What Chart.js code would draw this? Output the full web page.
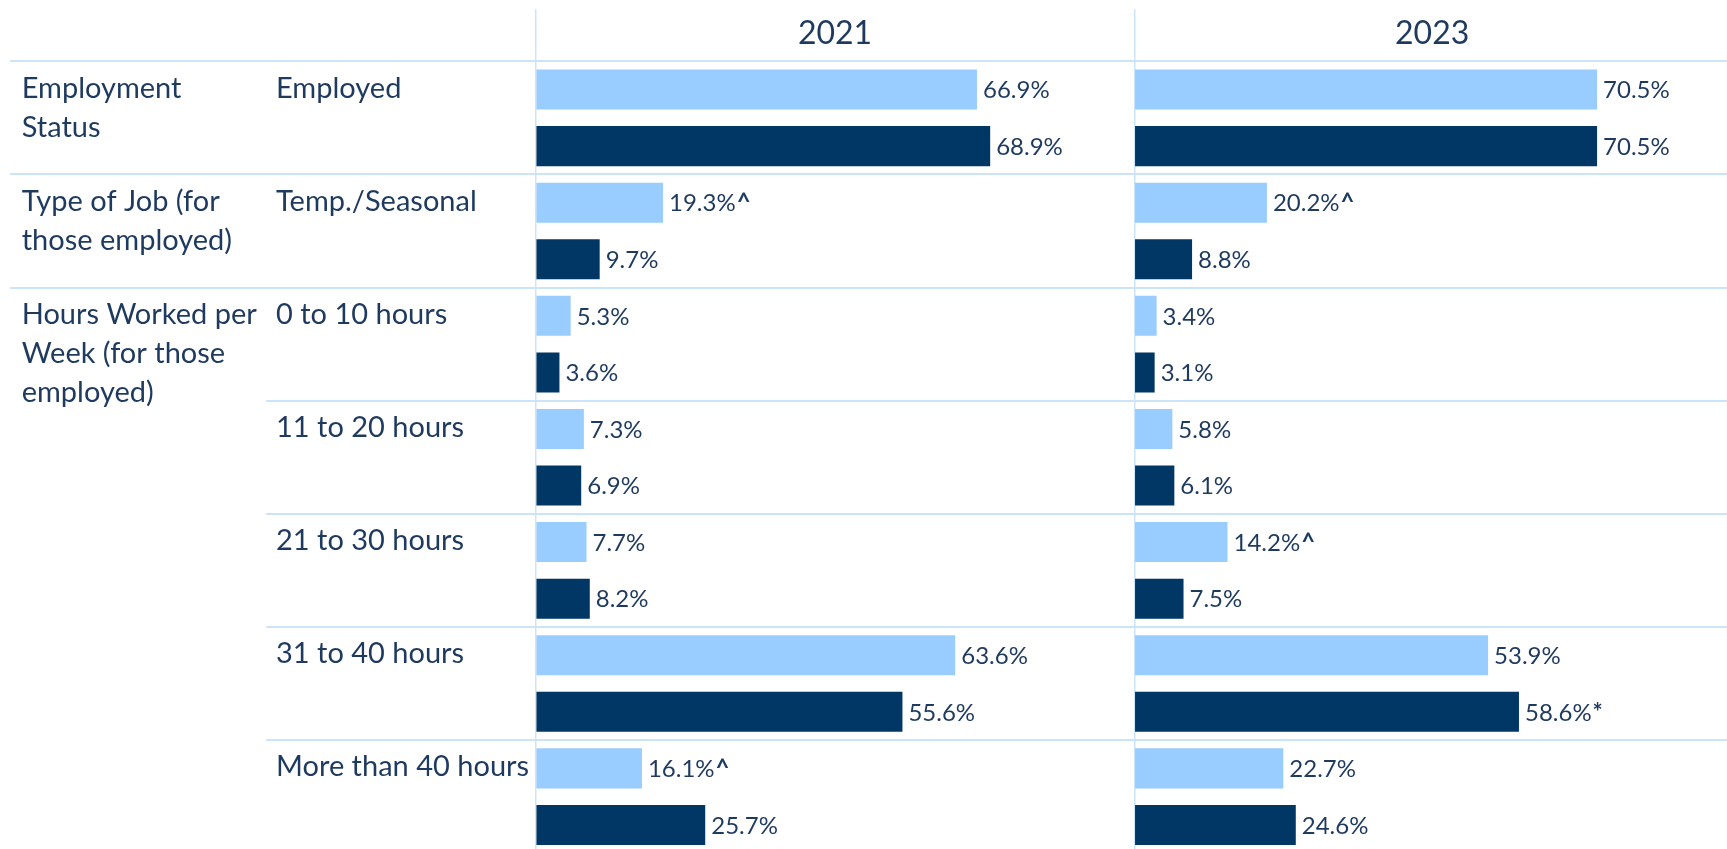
<!DOCTYPE html>
<html>
<head>
<meta charset="utf-8">
<script src="https://cdn.jsdelivr.net/npm/chart.js"></script>
<style>
  html, body { margin: 0; padding: 0; background: #fff; overflow: hidden; }
  #frame { width: 1727px; height: 849px; overflow: hidden; position: relative; }
  #box { width: 1730px; height: 855px; position: absolute; left: 0; top: 0; }
</style>
</head>
<body>
<div id="frame"><div id="box"><canvas id="jobsChart"></canvas></div></div>
<script>
// rows, top to bottom
const rowLabels = ['Employed', 'Temp./Seasonal', '0 to 10 hours', '11 to 20 hours',
  '21 to 30 hours', '31 to 40 hours', 'More than 40 hours'];
// group label shown on the first row of each group (padded to 3 lines)
const groupLabels = [
  ['Employment', 'Status', ''],
  ['Type of Job (for', 'those employed)', ''],
  ['Hours Worked per', 'Week (for those', 'employed)'],
  '', '', '', ''
];
const years = ['2021', '2023'];

const light2021 = [66.9, 19.3, 5.3, 7.3, 7.7, 63.6, 16.1];
const dark2021  = [68.9, 9.7, 3.6, 6.9, 8.2, 55.6, 25.7];
const light2023 = [70.5, 20.2, 3.4, 5.8, 14.2, 53.9, 22.7];
const dark2023  = [70.5, 8.8, 3.1, 6.1, 7.5, 58.6, 24.6];

const notesLight2021 = ['', '^', '', '', '', '', '^'];
const notesDark2021  = ['', '', '', '', '', '', ''];
const notesLight2023 = ['', '^', '', '', '^', '', ''];
const notesDark2023  = ['', '', '', '', '', '*', ''];

const lightBlue = '#99CCFF';
const darkBlue = '#003764';
const textColor = '#1E3A5F';
const lineColor = '#CCE4FA';

Chart.defaults.font.family = 'Lato';

const groupStarts = groupLabels.map((g, i) => (g ? i : -1)).filter(i => i >= 0);

const valueLabels = {
  id: 'valueLabels',
  afterDatasetsDraw(chart) {
    const ctx = chart.ctx;
    ctx.save();
    ctx.textBaseline = 'middle';
    ctx.textAlign = 'left';
    ctx.fillStyle = textColor;
    chart.data.datasets.forEach((ds, di) => {
      const meta = chart.getDatasetMeta(di);
      meta.data.forEach((bar, i) => {
        const txt = ds.data[i].toFixed(1) + '%';
        const x = bar.x + 6;
        ctx.font = '24px Lato';
        ctx.fillText(txt, x, bar.y + 1);
        if (ds.notes[i]) {
          const w = ctx.measureText(txt).width;
          ctx.font = 'bold 24px Lato';
          ctx.fillText(ds.notes[i], x + w + 1, bar.y + 1);
        }
      });
    });
    ctx.restore();
  }
};

function zeroLine(ctx) {
  return ctx.tick && ctx.tick.value === 0 ? lineColor : 'rgba(0,0,0,0)';
}

// top axes sit side by side in one stack; higher weight is placed first (left)
function yearAxis(title, order, share) {
  return {
    type: 'linear',
    position: 'top',
    weight: order,
    stack: 'years',
    stackWeight: share,
    stacked: false,
    min: 0,
    max: 90.75,
    ticks: { display: false },
    border: { display: false },
    grid: { color: zeroLine, lineWidth: 1.5, drawTicks: true, tickLength: 52 },
    title: {
      display: true, text: title, color: textColor,
      font: { size: 32, lineHeight: 1 }, padding: { top: 8, bottom: 0 }
    },
    afterFit(scale) { scale.height = 52; }
  };
}

new Chart(document.getElementById('jobsChart'), {
  type: 'bar',
  data: {
    labels: rowLabels,
    datasets: [
      { data: light2021, notes: notesLight2021, xAxisID: 'x21', stack: 'light', backgroundColor: lightBlue },
      { data: dark2021, notes: notesDark2021, xAxisID: 'x21', stack: 'dark', backgroundColor: darkBlue },
      { data: light2023, notes: notesLight2023, xAxisID: 'x23', stack: 'light', backgroundColor: lightBlue },
      { data: dark2023, notes: notesDark2023, xAxisID: 'x23', stack: 'dark', backgroundColor: darkBlue }
    ]
  },
  options: {
    indexAxis: 'y',
    responsive: true,
    maintainAspectRatio: false,
    animation: false,
    categoryPercentage: 1.0,
    barPercentage: 0.708,
    layout: { padding: { left: 21.7, top: 9.3, right: 0, bottom: 1.8 } },
    plugins: { legend: { display: false }, tooltip: { enabled: false } },
    scales: {
      x21: yearAxis(years[0], 1, 598.6),
      x23: yearAxis(years[1], 0, 595.7),
      y: {
        type: 'category',
        position: 'left',
        weight: 0,
        border: { display: false },
        grid: { color: lineColor, lineWidth: 2, drawTicks: true, tickLength: 269.5 },
        ticks: {
          autoSkip: false, crossAlign: 'far', color: textColor, labelOffset: -29.5,
          font: { size: 29, lineHeight: '39px' }
        },
        afterFit(scale) { scale.width = 259.7; scale.paddingTop = 0; scale.paddingBottom = 0; }
      },
      yGroup: {
        type: 'category',
        position: 'left',
        weight: 1,
        labels: groupLabels,
        border: { display: false },
        grid: {
          drawOnChartArea: false, drawTicks: true, tickLength: 266, lineWidth: 2,
          color: ctx => (groupStarts.includes(ctx.index) ? lineColor : 'rgba(0,0,0,0)')
        },
        ticks: {
          autoSkip: false, crossAlign: 'far', color: textColor, labelOffset: 9.5,
          font: { size: 29, lineHeight: '39px' }
        },
        afterFit(scale) { scale.width = 254.3; scale.paddingTop = 0; scale.paddingBottom = 0; }
      }
    }
  },
  plugins: [valueLabels]
});
</script>
</body>
</html>
